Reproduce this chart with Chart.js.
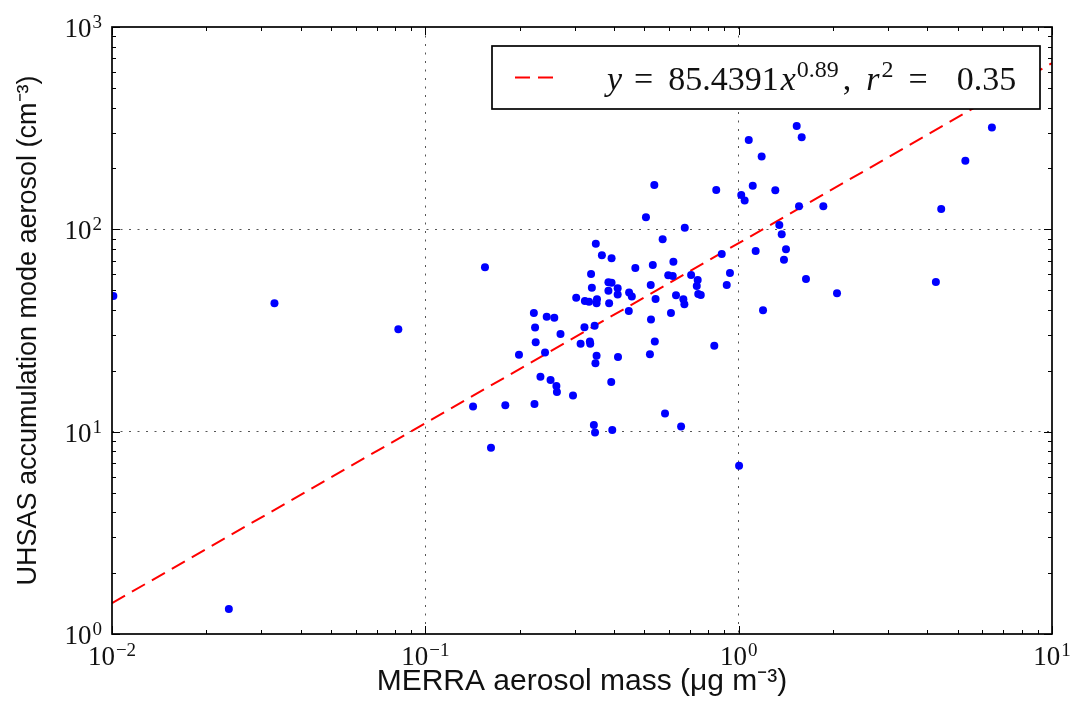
<!DOCTYPE html>
<html>
<head>
<meta charset="utf-8">
<script src="https://cdn.jsdelivr.net/npm/chart.js@4.4.0/dist/chart.umd.min.js"></script>
<style>
  html, body { margin: 0; padding: 0; background: #fff; }
  #wrap { width: 1083px; height: 711px; position: relative; }
</style>
</head>
<body>
<div id="wrap"><canvas id="chart"></canvas></div>
<script>
// MERRA aerosol mass (ug m-3), one value per flight segment
const massX = [
  0.155, 0.538, 0.848, 0.506, 0.673, 0.572, 0.350, 0.366, 0.393, 0.883,
  0.468, 0.532, 0.619, 0.338, 0.596, 0.616, 0.705, 0.740, 0.735, 0.938,
  0.916, 0.340, 0.384, 0.393, 0.384, 0.411, 0.411, 0.447, 0.456, 0.524,
  0.543, 0.631, 0.666, 0.671, 0.743, 0.757, 0.303, 0.323, 0.333, 0.353,
  0.352, 0.386, 0.222, 0.244, 0.258, 0.446, 0.525, 0.608, 0.224, 0.270,
  0.322, 0.347, 0.225, 0.199, 0.241, 0.313, 0.335, 0.336, 0.352, 0.349,
  0.412, 0.521, 0.540, 0.836, 0.233, 0.251, 0.262, 0.263, 0.296, 0.392,
  0.142, 0.180, 0.223, 0.582, 0.655, 0.345, 0.348, 0.395, 0.162, 1.003,
  1.532, 1.589, 6.43, 1.077, 1.184, 5.29, 1.109, 1.309, 1.019, 1.045,
  1.558, 1.863, 4.43, 1.348, 1.372, 1.416, 1.395, 1.133, 1.640, 2.06,
  4.26, 1.196, 0.0101, 0.033, 0.082, 0.0236
];
// UHSAS accumulation mode aerosol (cm-3), same order as massX
const uhsasY = [
  64.9, 165.6, 156.4, 114.7, 101.9, 89.3, 84.9, 74.4, 71.9, 75.5,
  64.4, 66.6, 69.2, 60.2, 59.3, 58.8, 59.5, 56.2, 52.5, 60.8,
  53.1, 51.5, 54.7, 54.5, 49.7, 51.1, 47.7, 48.8, 46.5, 53.1,
  45.3, 47.2, 45.1, 42.6, 47.9, 47.4, 45.9, 44.2, 43.9, 45.1,
  43.1, 43.1, 38.6, 37.0, 36.6, 39.5, 35.8, 38.6, 32.7, 30.4,
  32.8, 33.4, 27.7, 24.0, 24.6, 27.2, 27.9, 27.2, 23.7, 21.8,
  23.4, 24.1, 27.9, 26.6, 18.7, 18.0, 16.8, 15.7, 15.1, 17.6,
  13.3, 13.5, 13.7, 12.3, 10.6, 10.8, 9.9, 10.2, 8.33, 6.79,
  324, 285, 319, 276, 229, 218, 164, 156, 148, 139,
  130, 130, 126, 105, 94.5, 79.7, 70.8, 78.2, 56.8, 48.3,
  54.9, 39.8, 46.8, 43.1, 32.1, 1.33
];

// power-law fit, ends of the dashed line
const fitX = [0.01, 10];
const fitY = [1.42, 663];

// axis decades and their exponent labels
const xDecades = [0.01, 0.1, 1, 10];
const xTickExp = ["\u22122", "\u22121", "0", "1"];
const yDecades = [1, 10, 100, 1000];
const yTickExp = ["0", "1", "2", "3"];

const SERIF = "'Liberation Serif', 'DejaVu Serif', serif";
const SANS = "'Liberation Sans', Arial, sans-serif";

// 2..9 times each decade, for the small tick marks
function minorTicks(decades) {
  const out = [];
  for (let i = 0; i < decades.length - 1; i++) {
    for (let m = 2; m <= 9; m++) out.push(decades[i] * m);
  }
  return out;
}

// draws a run of [text, font, raise, gapAfter] pieces from x
function drawRuns(ctx, runs, x, y) {
  for (const [txt, font, raise, gap = 0] of runs) {
    ctx.font = font;
    ctx.fillText(txt, x, y - raise);
    x += ctx.measureText(txt).width + gap;
  }
  return x;
}
function runsWidth(ctx, runs) {
  let w = 0;
  for (const [txt, font, , gap = 0] of runs) {
    ctx.font = font;
    w += ctx.measureText(txt).width + gap;
  }
  return w;
}
function powRuns(exp) {
  return [["10", "27px " + SERIF, 0, 1], [exp, "19px " + SERIF, 9]];
}

const axesDecor = {
  id: "axesDecor",
  afterDraw(chart) {
    const { ctx, chartArea: a, scales: { x, y } } = chart;
    ctx.save();
    ctx.strokeStyle = "#000";
    ctx.lineWidth = 1;

    // inward tick marks on all four sides
    ctx.beginPath();
    const xt = xDecades.map((v) => [v, 8]).concat(minorTicks(xDecades).map((v) => [v, 4]));
    for (const [v, len] of xt) {
      const px = Math.round(x.getPixelForValue(v)) + 0.5;
      ctx.moveTo(px, a.bottom); ctx.lineTo(px, a.bottom - len);
      ctx.moveTo(px, a.top); ctx.lineTo(px, a.top + len);
    }
    const yt = yDecades.map((v) => [v, 8]).concat(minorTicks(yDecades).map((v) => [v, 4]));
    for (const [v, len] of yt) {
      const py = Math.round(y.getPixelForValue(v)) + 0.5;
      ctx.moveTo(a.left, py); ctx.lineTo(a.left + len, py);
      ctx.moveTo(a.right, py); ctx.lineTo(a.right - len, py);
    }
    ctx.stroke();

    // frame
    ctx.lineWidth = 1.7;
    ctx.strokeRect(a.left, a.top, a.right - a.left, a.bottom - a.top);

    // tick labels, 10 with a raised exponent
    ctx.fillStyle = "#111";
    ctx.textAlign = "left";
    ctx.textBaseline = "alphabetic";
    xDecades.forEach((v, i) => {
      const runs = powRuns(xTickExp[i]);
      const w = runsWidth(ctx, runs);
      drawRuns(ctx, runs, x.getPixelForValue(v) - w / 2, a.bottom + 31);
    });
    yDecades.forEach((v, i) => {
      const runs = powRuns(yTickExp[i]);
      const w = runsWidth(ctx, runs);
      drawRuns(ctx, runs, a.left - 10 - w, y.getPixelForValue(v) + 10);
    });

    // legend box
    const bx = 492, by = 46, bw = 548, bh = 63;
    ctx.fillStyle = "#fff";
    ctx.fillRect(bx, by, bw, bh);
    ctx.lineWidth = 1.7;
    ctx.strokeStyle = "#000";
    ctx.strokeRect(bx, by, bw, bh);
    ctx.beginPath();
    ctx.setLineDash([15, 8]);
    ctx.strokeStyle = "#ff0000";
    ctx.lineWidth = 2;
    ctx.moveTo(515, by + bh / 2);
    ctx.lineTo(558, by + bh / 2);
    ctx.stroke();
    ctx.setLineDash([]);
    ctx.fillStyle = "#111";
    const big = "34px " + SERIF, it = "italic 34px " + SERIF, sup = "24px " + SERIF;
    drawRuns(ctx, [
      ["y", it, 0, 12], ["=", big, 0, 15], ["85.4391", big, 0, 2], ["x", it, 0, 1],
      ["0.89", sup, 13, 4], [",", big, 0, 15], ["r", it, 0, 2], ["2", sup, 13, 15],
      ["=", big, 0, 29], ["0.35", big, 0, 0]
    ], 607, by + 44);

    ctx.restore();
  }
};

const points = massX.map((v, i) => ({ x: v, y: uhsasY[i] }));
const fitLine = fitX.map((v, i) => ({ x: v, y: fitY[i] }));

const gridColor = (c) => {
  const n = c.scale.ticks.length;
  return c.index === 0 || c.index === n - 1 ? "rgba(0,0,0,0)" : "#555";
};

new Chart(document.getElementById("chart"), {
  type: "scatter",
  data: {
    datasets: [
      {
        label: "data",
        data: points,
        backgroundColor: "#0000ff",
        borderWidth: 0,
        pointRadius: 4,
        clip: 0,
        order: 1
      },
      {
        type: "line",
        label: "fit",
        data: fitLine,
        borderColor: "#ff0000",
        borderWidth: 2,
        borderDash: [15, 8],
        pointRadius: 0,
        fill: false,
        order: 2
      }
    ]
  },
  options: {
    responsive: true,
    maintainAspectRatio: false,
    animation: false,
    layout: { padding: { left: 0, top: 27, right: 31, bottom: 0 } },
    plugins: {
      legend: { display: false },
      tooltip: { enabled: false }
    },
    scales: {
      x: {
        type: "logarithmic",
        min: 0.01,
        max: 10,
        afterBuildTicks: (s) => { s.ticks = xDecades.map((v) => ({ value: v })); },
        afterFit: (s) => { s.height = 77; },
        ticks: { display: false },
        grid: { color: gridColor, lineWidth: 1, drawTicks: false },
        border: { display: false, dash: [2, 6.5] },
        title: {
          display: true,
          text: "MERRA aerosol mass (\u03bcg m\u207b\u00b3)",
          color: "#111",
          font: { family: SANS, size: 30 },
          padding: { top: 0, bottom: 11 }
        }
      },
      y: {
        type: "logarithmic",
        min: 1,
        max: 1000,
        afterBuildTicks: (s) => { s.ticks = yDecades.map((v) => ({ value: v })); },
        afterFit: (s) => { s.width = 112; },
        ticks: { display: false },
        grid: { color: gridColor, lineWidth: 1, drawTicks: false },
        border: { display: false, dash: [2, 6.5] },
        title: {
          display: true,
          text: "UHSAS accumulation mode aerosol (cm\u207b\u00b3)",
          color: "#111",
          font: { family: SANS, size: 27 },
          padding: { top: 12, bottom: 0 }
        }
      }
    }
  },
  plugins: [axesDecor]
});
</script>
</body>
</html>
